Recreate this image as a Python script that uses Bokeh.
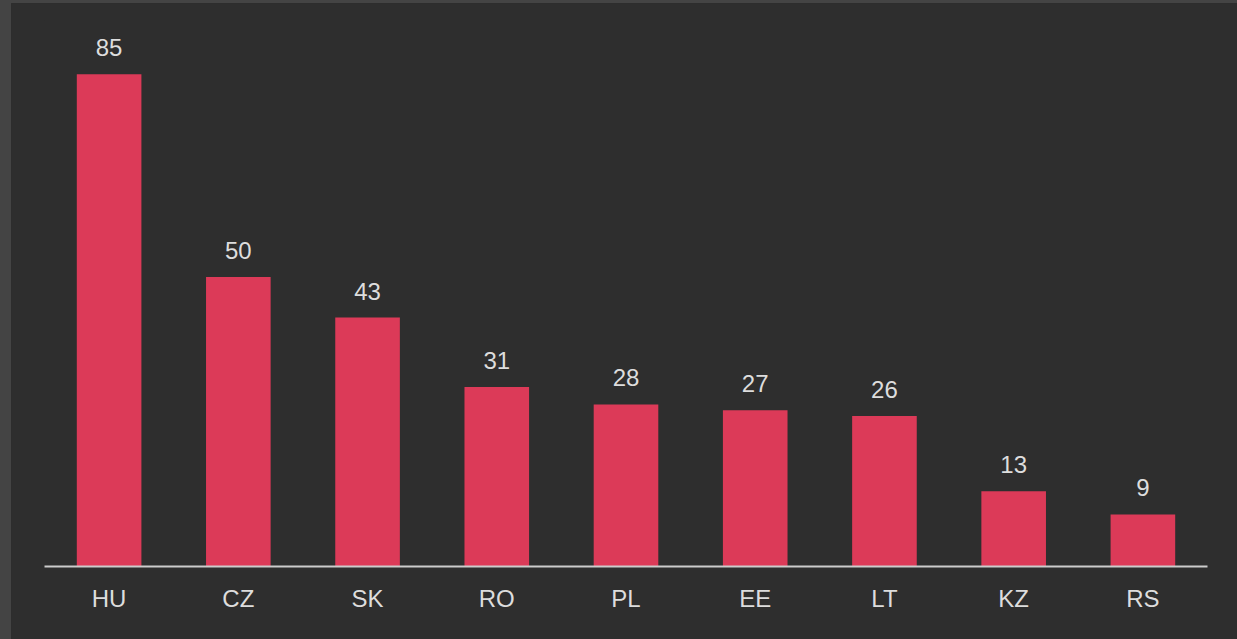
from bokeh.plotting import figure
from bokeh.models import ColumnDataSource, LabelSet, Range1d
from bokeh.core.properties import value
from bokeh.embed import file_html
from bokeh.resources import INLINE

countries = ["HU", "CZ", "SK", "RO", "PL", "EE", "LT", "KZ", "RS"]
values = [85, 50, 43, 31, 28, 27, 26, 13, 9]
labels = [str(v) for v in values]

BG = "#2e2e2e"
BAR = "#dc3a58"
TXT = "#dddddd"
FONT = "Liberation Sans"

src = ColumnDataSource(dict(cat=countries, val=values, lab=labels))

p = figure(x_range=countries, y_range=Range1d(0, 94.3), width=1226, height=636,
           output_backend="svg", toolbar_location=None, y_axis_location=None,
           border_fill_color=BG,
           min_border_left=33, min_border_right=30, min_border_top=17, min_border_bottom=73)
p.background_fill_color = None
p.styles = {"background-color": BG}
p.outline_line_color = None
p.xgrid.visible = False
p.ygrid.visible = False
p.x_range.range_padding = 0

p.vbar(x="cat", top="val", width=0.5, source=src, color=BAR, line_color=None)

lbl = LabelSet(x="cat", y="val", text="lab", source=src, text_align="center",
               text_baseline="alphabetic", y_offset=18, text_color=TXT,
               text_font=value(FONT), text_font_size="24px")
p.add_layout(lbl)

ax = p.xaxis[0]
ax.axis_line_color = "#cccccc"
ax.axis_line_width = 2
ax.major_tick_line_color = None
ax.minor_tick_line_color = None
ax.major_label_text_color = TXT
ax.major_label_text_font = FONT
ax.major_label_text_font_size = "24px"
ax.major_label_standoff = 12

html = file_html(p, INLINE)
style = "<style>html,body{background:#444444;margin:0;padding:0;} body{padding:3px 0 0 11px;}</style>"
html = html.replace("</head>", style + "</head>", 1)
open("out.html", "w").write(html)
